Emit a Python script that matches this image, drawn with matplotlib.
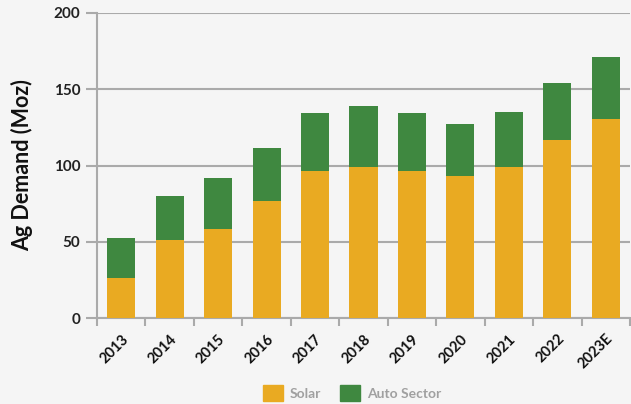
import matplotlib
matplotlib.use("Agg")
import matplotlib.pyplot as plt
import numpy as np
from matplotlib.patches import Patch

years = ["2013", "2014", "2015", "2016", "2017", "2018", "2019", "2020", "2021", "2022", "2023E"]
solar = [26.0, 50.9, 58.1, 76.4, 96.1, 98.7, 96.1, 93.4, 98.7, 117.0, 130.8]
auto = [26.2, 28.8, 34.0, 35.4, 38.0, 40.6, 38.0, 34.1, 36.7, 37.4, 40.6]
yticks = [0, 50, 100, 150, 200]

bg = "#f5f5f5"
c_solar = "#E9AA22"
c_auto = "#3F8840"
grid_c = "#aaaaaa"

plt.rcParams['font.family'] = ['Lato', 'DejaVu Sans']

fig = plt.figure(figsize=(6.31, 4.04), dpi=100, facecolor=bg)
ax = fig.add_axes([97/631, 1 - 318/404, (630 - 97)/631, (318 - 13)/404])
ax.set_facecolor(bg)

x = np.arange(len(years))
ax.bar(x, solar, width=0.58, color=c_solar, zorder=3, label="Solar")
ax.bar(x, auto, width=0.58, bottom=solar, color=c_auto, zorder=3, label="Auto Sector")

ax.set_xlim(-0.5, len(years) - 0.5)
ax.set_ylim(0, 200)
ax.set_yticks(yticks)
ax.set_yticklabels([str(v) for v in yticks], fontsize=11, fontweight='bold', color="#222222")
ax.yaxis.grid(True, color=grid_c, linewidth=1.5, zorder=0)
ax.tick_params(axis='y', length=8, width=1.5, color=grid_c, pad=4)

ax.set_xticks(x)
ax.set_xticklabels(years, rotation=45, ha='right', rotation_mode='anchor',
                   fontsize=10.5, fontweight='bold', color="#111111")
ax.tick_params(axis='x', which='major', length=0, pad=10)
ax.set_xticks(np.arange(-0.5, len(years)), minor=True)
ax.tick_params(axis='x', which='minor', length=6, width=1.5, color=grid_c)

for s in ['top', 'right']:
    ax.spines[s].set_visible(False)
for s in ['left', 'bottom']:
    ax.spines[s].set_color(grid_c)
    ax.spines[s].set_linewidth(1.5)

ax.set_ylabel("Ag Demand (Moz)", fontsize=15.5, fontweight='bold', color="#111111", labelpad=15)

handles = [Patch(color=c_solar, label="Solar"), Patch(color=c_auto, label="Auto Sector")]
leg = fig.legend(handles=handles, loc='center', bbox_to_anchor=(352/631, 1 - 393/404), ncol=2,
                 frameon=False, fontsize=10, handlelength=1.4, handleheight=1.4,
                 handletextpad=0.5, columnspacing=1.4)
for t in leg.get_texts():
    t.set_color("#a0a0a0")
    t.set_fontweight('bold')

fig.savefig("out.png", dpi=100, facecolor=bg)
